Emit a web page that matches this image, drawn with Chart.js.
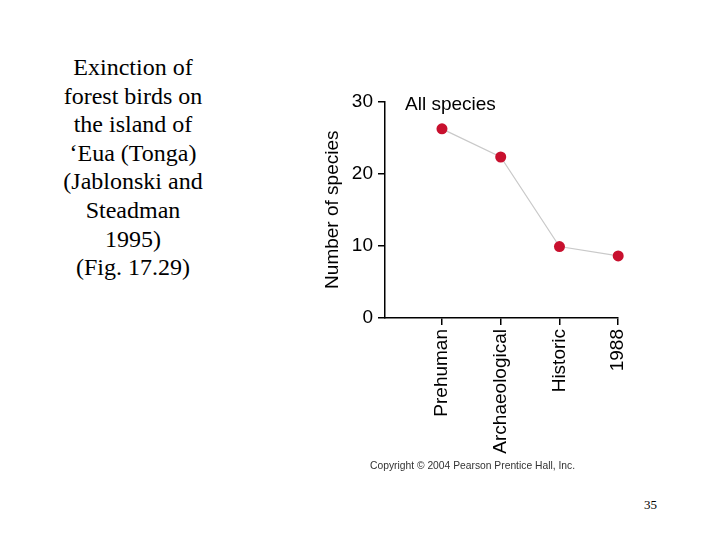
<!DOCTYPE html>
<html>
<head>
<meta charset="utf-8">
<script src="https://cdn.jsdelivr.net/npm/chart.js@4/dist/chart.umd.min.js"></script>
<style>
  html, body { margin: 0; padding: 0; background: #fff; }
  body { width: 720px; height: 540px; position: relative; overflow: hidden; }
  .caption {
    position: absolute; left: 43px; top: 53px; width: 180px;
    font-family: "Liberation Serif", "Times New Roman", serif;
    font-size: 24px; line-height: 28.6px; text-align: center; color: #000;
  }
  .chart-box { position: absolute; left: 315px; top: 85px; width: 330px; height: 380px; }
  .copyright {
    position: absolute; left: 370px; top: 460px;
    font-family: "Liberation Sans", Arial, sans-serif; font-size: 10.3px; color: #333;
  }
  .page-num {
    position: absolute; left: 644px; top: 497px;
    font-family: "Liberation Serif", "Times New Roman", serif; font-size: 13px; color: #000;
  }
</style>
</head>
<body>
<div class="caption">Exinction of<br>forest birds on<br>the island of<br>‘Eua (Tonga)<br>(Jablonski and<br>Steadman<br>1995)<br>(Fig. 17.29)</div>
<div class="chart-box"><canvas id="myChart" width="330" height="380"></canvas></div>
<div class="copyright">Copyright © 2004 Pearson Prentice Hall, Inc.</div>
<div class="page-num">35</div>
<script>
  var categories = ['Prehuman', 'Archaeological', 'Historic', '1988'];
  var species = [26.2, 22.3, 9.9, 8.6];
  var yTicks = [0, 10, 20, 30];
  var panelLabel = 'All species';

  var axisFont = { family: '"Liberation Sans", Arial, sans-serif', size: 19 };

  // draws the "All species" label inside the plot, top left
  var panelLabelPlugin = {
    id: 'panelLabel',
    afterDraw: function (chart) {
      var ctx = chart.ctx;
      var area = chart.chartArea;
      ctx.save();
      ctx.font = '19px "Liberation Sans", Arial, sans-serif';
      ctx.fillStyle = '#000';
      ctx.textBaseline = 'middle';
      ctx.fillText(panelLabel, area.left + 20, area.top + 3);
      ctx.restore();
    }
  };

  var ctx = document.getElementById('myChart').getContext('2d');
  new Chart(ctx, {
    type: 'line',
    data: {
      datasets: [{
        data: species.map(function (v, i) { return { x: i, y: v }; }),
        borderColor: '#c9c9c9',
        borderWidth: 1.2,
        backgroundColor: '#c8102e',
        pointBackgroundColor: '#c8102e',
        pointBorderWidth: 0,
        pointRadius: 5.5,
        tension: 0,
        clip: false
      }]
    },
    options: {
      responsive: false,
      animation: false,
      layout: { padding: { top: 7, right: 9, left: 0, bottom: 0 } },
      plugins: { legend: { display: false }, tooltip: { enabled: false } },
      elements: { point: { hoverRadius: 5.5 } },
      scales: {
        x: {
          type: 'linear',
          min: -0.97,
          max: 3,
          afterBuildTicks: function (scale) {
            scale.ticks = categories.map(function (c, i) { return { value: i }; });
          },
          afterFit: function (scale) { scale.height = 147; },
          grid: { drawOnChartArea: false, drawTicks: true, tickLength: 7, color: '#000', lineWidth: 1.5 },
          border: { color: '#000', width: 1.5 },
          ticks: {
            autoSkip: false,
            minRotation: 90,
            maxRotation: 90,
            padding: 4,
            color: '#000',
            font: axisFont,
            callback: function (v) { return categories[v]; }
          }
        },
        y: {
          min: 0,
          max: 30,
          afterBuildTicks: function (scale) {
            scale.ticks = yTicks.map(function (v) { return { value: v }; });
          },
          afterFit: function (scale) { scale.width = 70; },
          grid: { drawOnChartArea: false, drawTicks: true, tickLength: 7, color: '#000', lineWidth: 1.5 },
          border: { color: '#000', width: 1.5 },
          ticks: { padding: 5, color: '#000', font: axisFont },
          title: {
            display: true,
            text: 'Number of species',
            color: '#000',
            font: axisFont,
            padding: { top: 6, bottom: 0 }
          }
        }
      }
    },
    plugins: [panelLabelPlugin]
  });
</script>
</body>
</html>
